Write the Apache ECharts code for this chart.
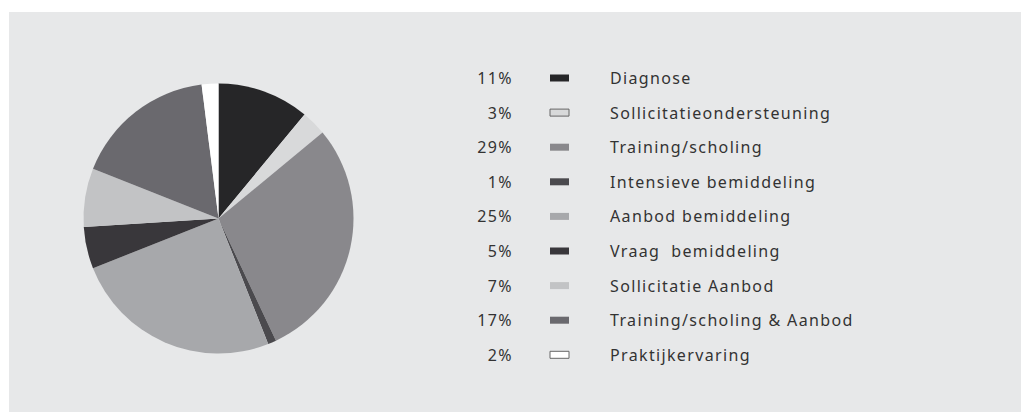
<!DOCTYPE html>
<html>
<head>
<meta charset="utf-8">
<script src="https://cdn.jsdelivr.net/npm/echarts@6/dist/echarts.min.js"></script>
<style>
  html, body { margin: 0; padding: 0; background: #ffffff; }
  #chart { width: 1021px; height: 412px; }
  /* the legend text in the original is spaced out a little */
  #chart text { letter-spacing: 1.35px; }
</style>
</head>
<body>
<div id="chart"></div>
<script>
// share of each activity, in percent
const categories = [
  'Diagnose',
  'Sollicitatieondersteuning',
  'Training/scholing',
  'Intensieve bemiddeling',
  'Aanbod bemiddeling',
  'Vraag  bemiddeling',
  'Sollicitatie Aanbod',
  'Training/scholing & Aanbod',
  'Praktijkervaring'
];
const shares = [11, 3, 29, 1, 25, 5, 7, 17, 2];
const sliceColors = ['#262628', '#d8d9da', '#89888c', '#4b4a4e', '#a7a8ab', '#39373b', '#c2c3c5', '#6a696e', '#ffffff'];
// light boxes get an outline in the legend
const outlined = ['Sollicitatieondersteuning', 'Praktijkervaring'];

const chart = echarts.init(document.getElementById('chart'), null, { renderer: 'svg' });

const pieData = categories.map((name, i) => ({
  name: name,
  value: shares[i],
  itemStyle: { color: sliceColors[i] }
}));

const pctByName = {};
categories.forEach((name, i) => { pctByName[name] = shares[i] + '%'; });

const textBase = {
  fontFamily: 'Noto Sans',
  fontSize: 16,
  color: '#333333',
  lineHeight: 20
};

const option = {
  backgroundColor: '#ffffff',
  animation: false,
  graphic: [{
    type: 'rect',
    z: -10,
    silent: true,
    shape: { x: 9, y: 12, width: 1012, height: 400 },
    style: { fill: '#e7e8e9' }
  }],
  legend: [
    {
      // percentages + colour boxes
      orient: 'vertical',
      left: 468,
      top: 63,
      align: 'right',
      icon: 'rect',
      itemWidth: 19,
      itemHeight: 7,
      itemGap: 14.6,
      selectedMode: false,
      data: categories.map(name => ({
        name: name,
        itemStyle: outlined.indexOf(name) >= 0
          ? { borderColor: '#666666', borderWidth: 1 }
          : { borderWidth: 0 }
      })),
      formatter: name => '{p|' + pctByName[name] + '}',
      textStyle: {
        ...textBase,
        rich: {
          p: { ...textBase, width: 40, align: 'right', padding: [0, 32, 0, 0] }
        }
      }
    },
    {
      // names
      orient: 'vertical',
      left: 600,
      top: 63,
      icon: 'none',
      itemWidth: 0,
      itemHeight: 7,
      itemGap: 14.6,
      selectedMode: false,
      data: categories,
      textStyle: { ...textBase }
    }
  ],
  series: [{
    type: 'pie',
    center: [218.5, 218.5],
    radius: 135,
    startAngle: 90,
    clockwise: true,
    label: { show: false },
    labelLine: { show: false },
    emphasis: { scale: false },
    itemStyle: { borderWidth: 0 },
    data: pieData
  }]
};

chart.setOption(option);
</script>
</body>
</html>
